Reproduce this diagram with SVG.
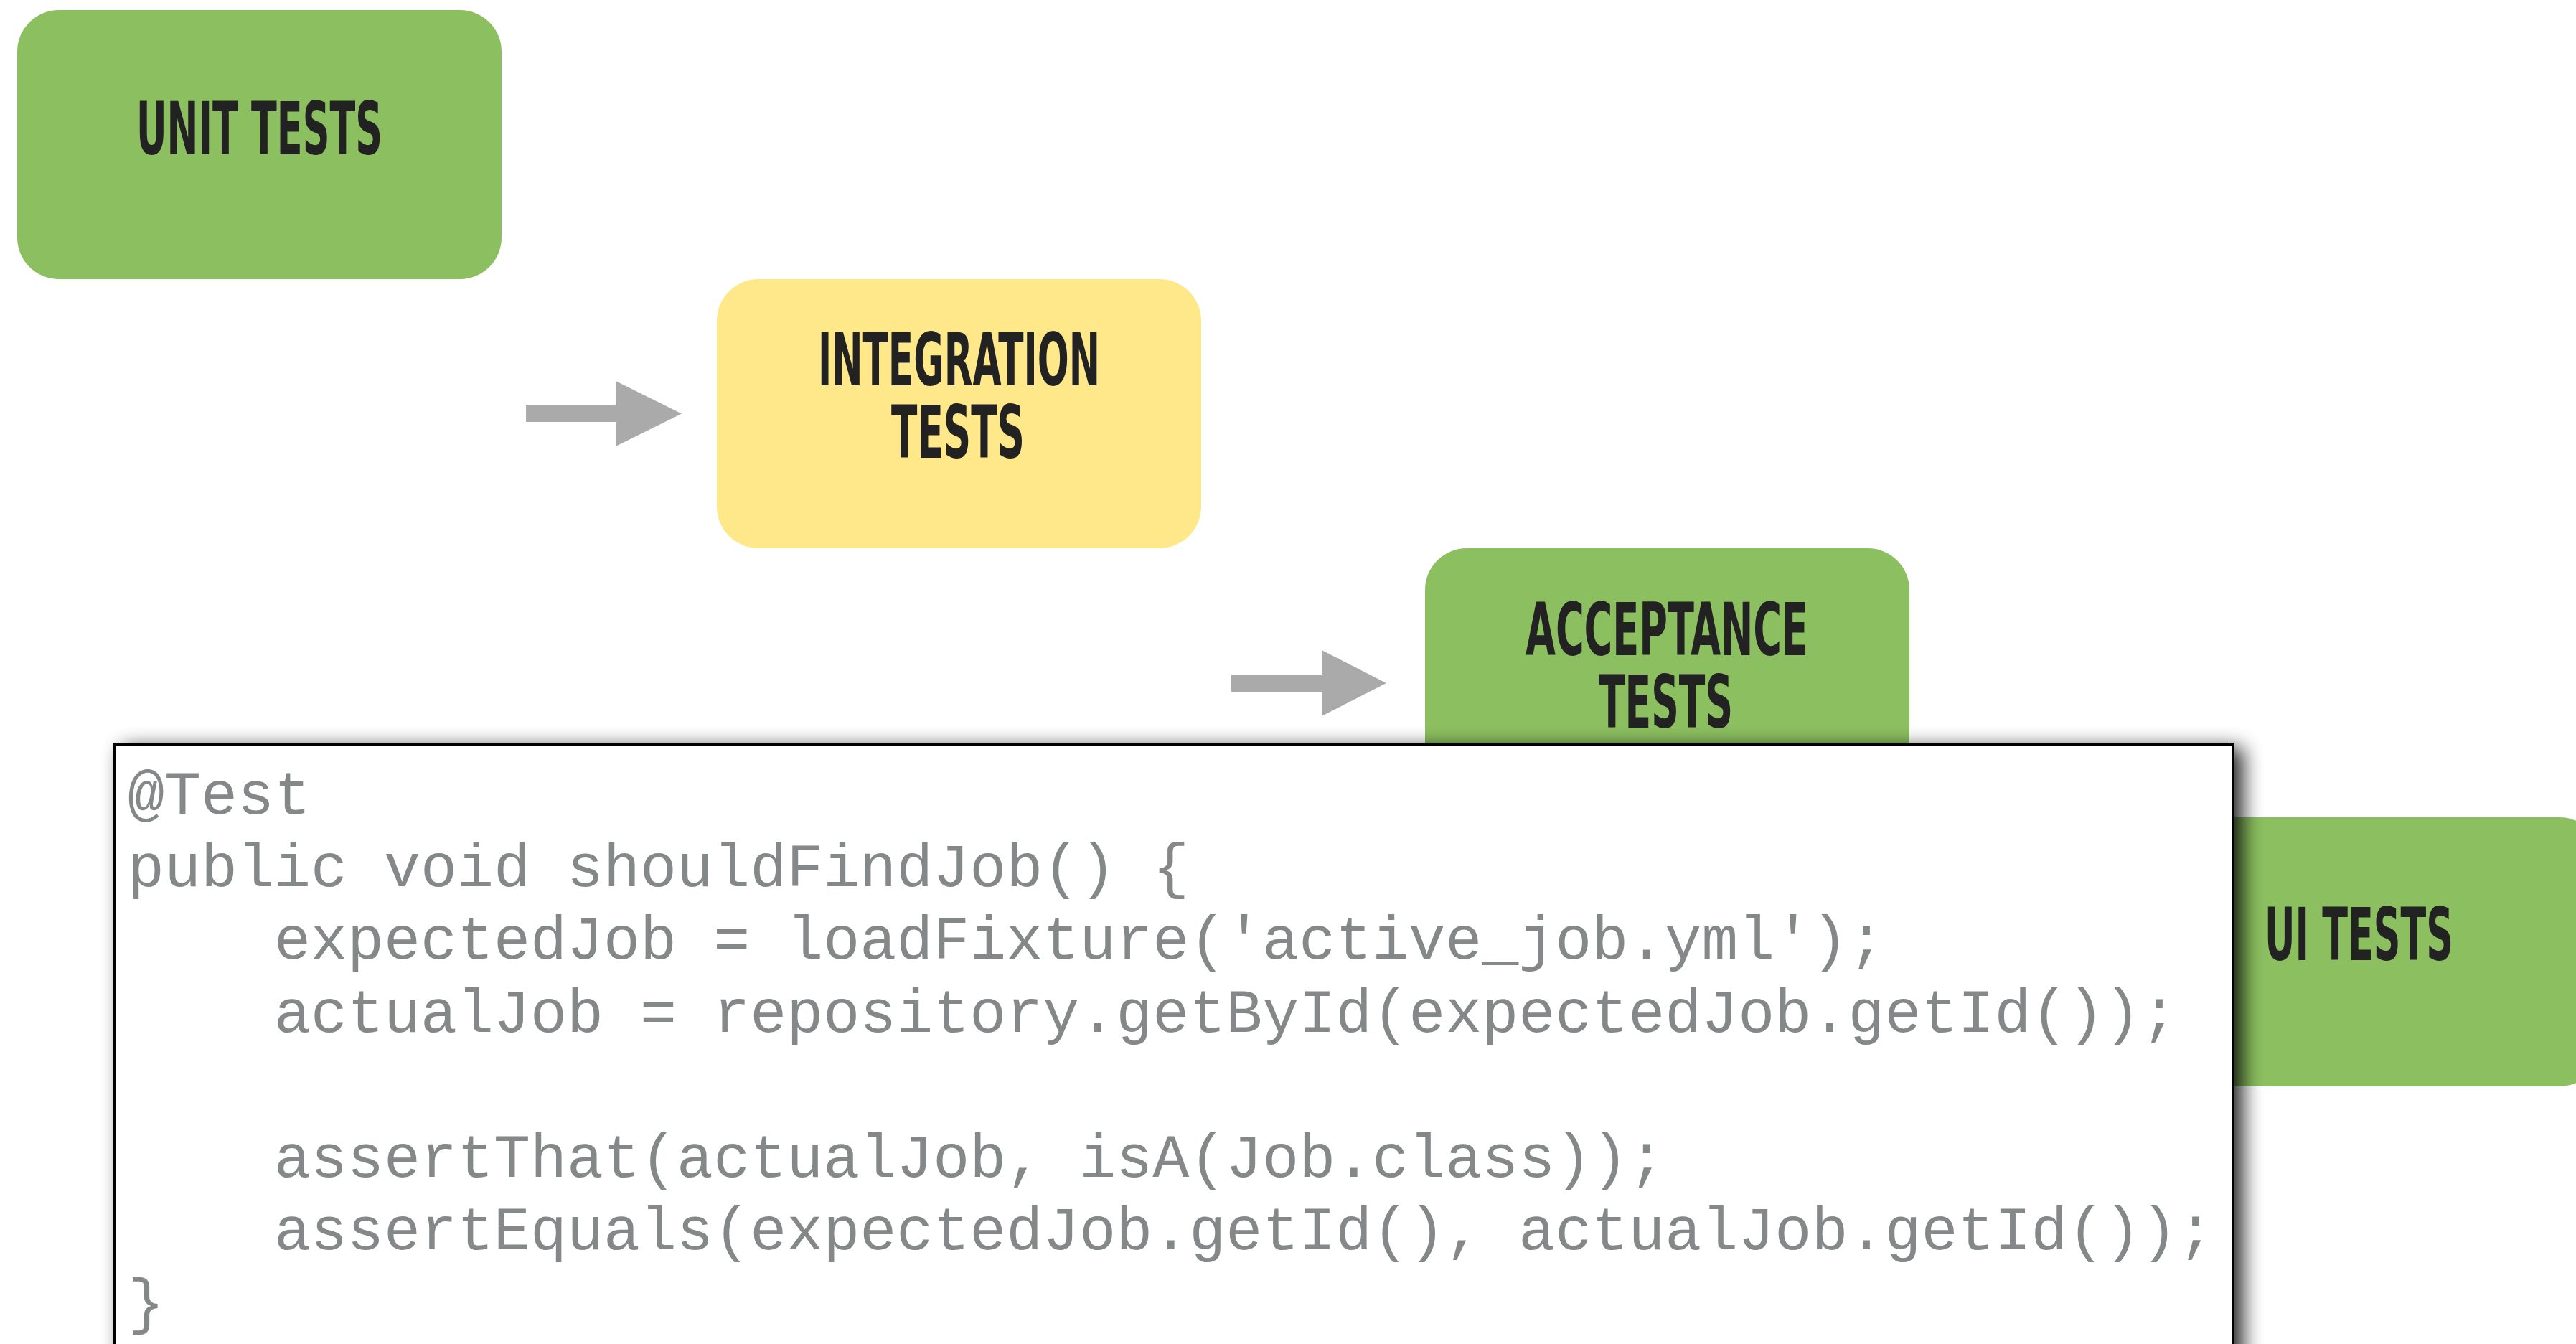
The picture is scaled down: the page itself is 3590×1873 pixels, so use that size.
<svg xmlns="http://www.w3.org/2000/svg" width="3590" height="1873" viewBox="0 0 3590 1873">
<style>
.box-green{fill:#8cbf60;}
.box-yellow{fill:#fee88a;}
.label{font-family:"DejaVu Sans","Liberation Sans",sans-serif;font-weight:bold;font-stretch:condensed;font-size:101px;fill:#222222;}
.code{font-family:"Liberation Mono","DejaVu Sans Mono",monospace;font-size:85px;fill:#858888;white-space:pre;}
.arrow{fill:#a9aaa9;}
</style>
<defs>
<filter id="shadow" x="-5%" y="-10%" width="110%" height="120%">
<feGaussianBlur in="SourceAlpha" stdDeviation="14"/>
<feOffset dx="12" dy="6" result="b"/>
<feComponentTransfer><feFuncA type="linear" slope="0.85"/></feComponentTransfer>
<feMerge><feMergeNode/><feMergeNode in="SourceGraphic"/></feMerge>
</filter>
</defs>
<rect width="3590" height="1873" fill="#ffffff"/>
<g id="unit-tests">
<rect class="box-green" x="24" y="14" width="675" height="375" rx="58" ry="58"/>
<text class="label" x="190" y="215" textLength="343" lengthAdjust="spacingAndGlyphs">UNIT TESTS</text>
</g>
<g id="integration-tests">
<rect class="box-yellow" x="999" y="389" width="675" height="375" rx="58" ry="58"/>
<text class="label" x="1140" y="537" textLength="393" lengthAdjust="spacingAndGlyphs">INTEGRATION</text>
<text class="label" x="1242" y="638" textLength="186" lengthAdjust="spacingAndGlyphs">TESTS</text>
</g>
<g id="acceptance-tests">
<rect class="box-green" x="1986" y="764" width="675" height="375" rx="58" ry="58"/>
<text class="label" x="2126" y="913" textLength="394" lengthAdjust="spacingAndGlyphs">ACCEPTANCE</text>
<text class="label" x="2228" y="1014" textLength="187" lengthAdjust="spacingAndGlyphs">TESTS</text>
</g>
<g id="ui-tests">
<rect class="box-green" x="2950" y="1139" width="675" height="375" rx="58" ry="58"/>
<text class="label" x="3156" y="1338" textLength="263" lengthAdjust="spacingAndGlyphs">UI TESTS</text>
</g>
<g id="connectors">
<polygon class="arrow" points="733,565 858,565 858,531 950,576.5 858,622 858,588 733,588"/>
<polygon class="arrow" points="1716,940 1842,940 1842,906 1932,952 1842,998 1842,964 1716,964"/>
</g>
<g id="code-box">
<rect x="159.5" y="1037.5" width="2953" height="900" fill="#ffffff" stroke="#000000" stroke-width="3" filter="url(#shadow)"/>
<text class="code" x="178" y="1134">@Test</text>
<text class="code" x="178" y="1235">public void shouldFindJob() {</text>
<text class="code" x="178" y="1336" xml:space="preserve">    expectedJob = loadFixture('active_job.yml');</text>
<text class="code" x="178" y="1438" xml:space="preserve">    actualJob = repository.getById(expectedJob.getId());</text>
<text class="code" x="178" y="1640" xml:space="preserve">    assertThat(actualJob, isA(Job.class));</text>
<text class="code" x="178" y="1741" xml:space="preserve">    assertEquals(expectedJob.getId(), actualJob.getId());</text>
<text class="code" x="178" y="1842">}</text>
</g>
</svg>
